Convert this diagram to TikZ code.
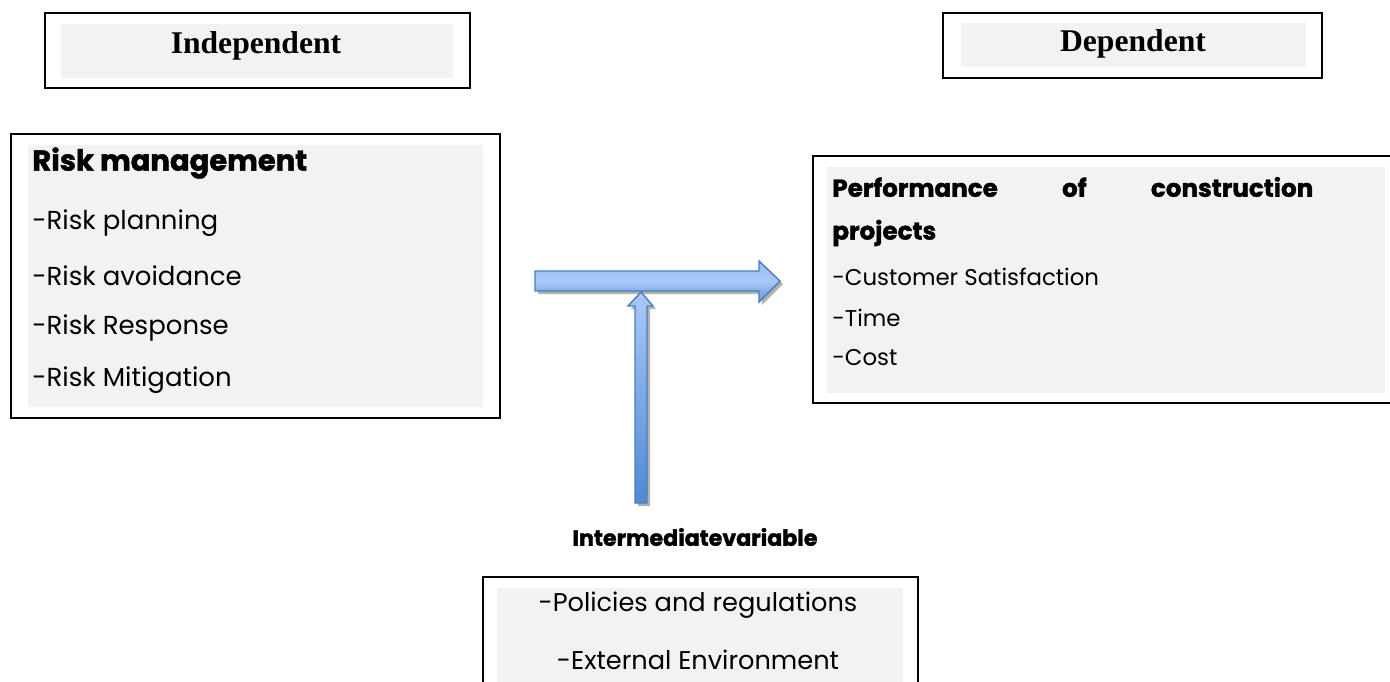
\documentclass[tikz,border=0pt]{standalone}
\usepackage{fontspec}
\setmainfont{Poppins}
\newfontfamily\headserif{Liberation Serif}
\newfontfamily\heavyfont[FakeBold=1.6]{Poppins}
\usetikzlibrary{positioning}
\definecolor{boxgray}{HTML}{F2F2F2}
\definecolor{arrowline}{HTML}{4A7EBB}
\definecolor{arrowlight}{HTML}{A9C9F7}
\definecolor{arrowdark}{HTML}{5088D6}
\tikzstyle{frame} = [draw, line width=1.1pt, inner sep=0pt]
\tikzstyle{panel} = [fill=boxgray, inner sep=0pt]
\tikzstyle{head} = [font=\headserif\bfseries\fontsize{18}{20}\selectfont]
\tikzstyle{item} = [anchor=west, inner sep=0pt, font=\fontsize{14.8}{16}\selectfont]
\tikzstyle{itemhead} = [item, font=\heavyfont\bfseries\fontsize{14}{16}\selectfont]
\tikzstyle{blockarrow} = [draw=arrowline, line width=0.8pt, line join=miter]

\begin{document}
\begin{tikzpicture}[x=0.02cm, y=-0.02cm]
        \useasboundingbox (0,0) rectangle (1390,681);
        \clip (0,0) rectangle (1390,681);
        %Top boxes
        \node [frame, minimum width=8.5cm, minimum height=1.5cm] (indepbox) at (257.5,50.5) {};
        \node [panel, minimum width=7.84cm, minimum height=1.08cm] (indeppanel) at (257,51) {};
        \node [head] (indep) at (256,46) {Independent};
        \node [frame, minimum width=7.58cm, minimum height=1.3cm] (depbox) at (1132.5,45.5) {};
        \node [panel, minimum width=6.9cm, minimum height=0.88cm] (deppanel) at (1133.5,45) {};
        \node [head] (dep) at (1133,44) {Dependent};
        %Risk management
        \node [frame, minimum width=9.78cm, minimum height=5.68cm] (riskbox) at (255.5,276) {};
        \node [panel, minimum width=9.1cm, minimum height=5.24cm] (riskpanel) at (255.5,276) {};
        \node [itemhead, font=\heavyfont\bfseries\fontsize{16.5}{18}\selectfont] (risk0) at (32,163) {Risk management};
        \node [item] (risk1) at (32,223) {-Risk planning};
        \node [item] (risk2) at (32,276) {-Risk avoidance};
        \node [item] (risk3) at (32,328) {-Risk Response};
        \node [item] (risk4) at (32,380) {-Risk Mitigation};
        %Performance
        \node [frame, minimum width=11.74cm, minimum height=4.94cm] (perfbox) at (1106.5,279.5) {};
        \node [panel, minimum width=11.16cm, minimum height=4.52cm] (perfpanel) at (1106,280) {};
        \node [itemhead] (perf0) at (832,187) {\makebox[9.62cm][s]{Performance\hfill of\hfill construction}};
        \node [itemhead] (perf1) at (832,233) {projects};
        \node [item, font=\fontsize{13}{15}\selectfont] (perf2) at (832,277) {-Customer Satisfaction};
        \node [item, font=\fontsize{13}{15}\selectfont] (perf3) at (832,318) {-Time};
        \node [item, font=\fontsize{13}{15}\selectfont] (perf4) at (832,358) {-Cost};
        %Intermediate
        \node [inner sep=0pt, font=\heavyfont\bfseries\fontsize{12.6}{14}\selectfont] (inter) at (695,537) {Intermediatevariable};
        \node [frame, minimum width=8.7cm, minimum height=2.46cm] (midbox) at (700.5,638.5) {};
        \node [panel, minimum width=8.12cm, minimum height=2.24cm] (midpanel) at (700,644) {};
        \node [inner sep=0pt, font=\fontsize{14.6}{16}\selectfont] (mid1) at (698,605) {-Policies and regulations};
        \node [inner sep=0pt, font=\fontsize{14.6}{16}\selectfont] (mid2) at (698,660) {-External Environment};
        %Arrows
        \coordinate (htail) at (535,281);
        \coordinate (hhead) at (780,281);
        \coordinate (vtail) at (641,503);
        \coordinate (vhead) at (641,292);
        \fill [gray!60] ([shift={(3,3)}]htail) ++(0,-10) -- ++(224,0) -- ++(0,-10) -- ([shift={(3,3)}]hhead)
            -- ++(-21,21) -- ++(0,-11) -- ++(-224,0) -- cycle;
        \fill [gray!60] ([shift={(3,3)}]vtail) ++(-6,0) -- ++(0,-197) -- ++(-7,0) -- ([shift={(3,3)}]vhead)
            -- ++(12,14) -- ++(-6,0) -- ++(0,197) -- cycle;
        \draw [blockarrow, top color=arrowlight!80!arrowdark, bottom color=arrowdark!85!arrowlight, middle color=arrowlight]
            (htail) ++(0,-10) -- ++(224,0) -- ++(0,-10) -- (hhead)
            -- ++(-21,21) -- ++(0,-11) -- ++(-224,0) -- cycle;
        \draw [blockarrow, top color=arrowlight, bottom color=arrowdark]
            (vtail) ++(-6,0) -- ++(0,-197) -- ++(-7,0) -- (vhead)
            -- ++(12,14) -- ++(-6,0) -- ++(0,197) -- cycle;
    \end{tikzpicture}
\end{document}
